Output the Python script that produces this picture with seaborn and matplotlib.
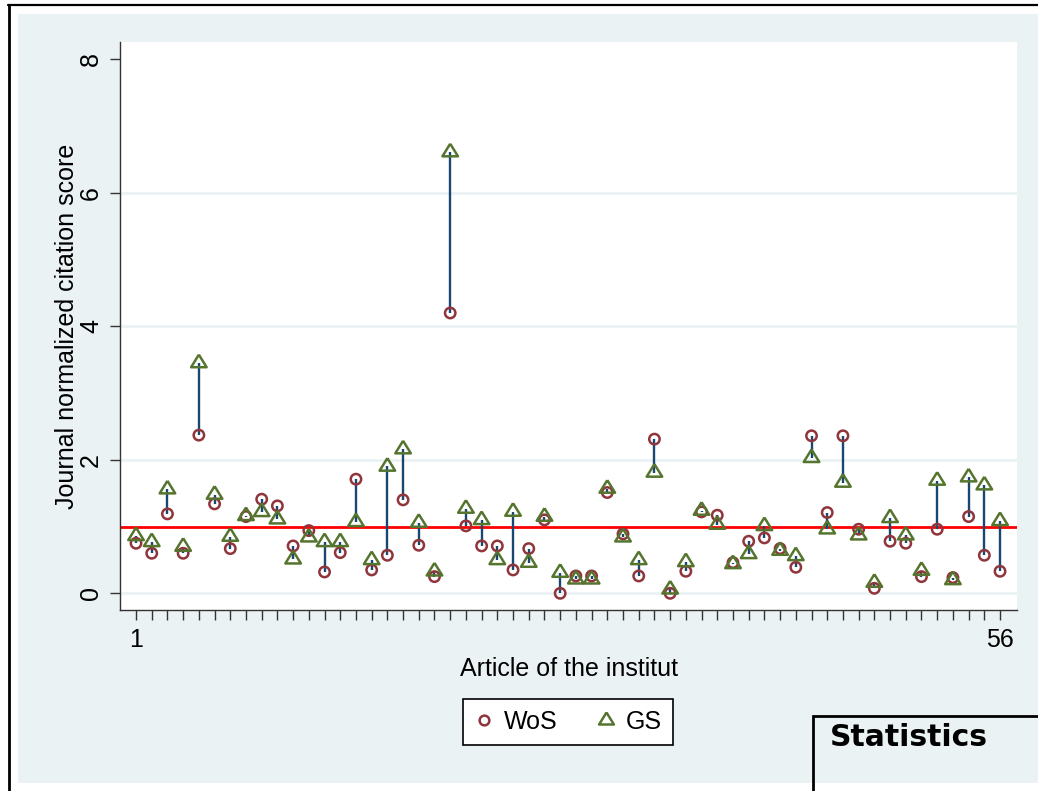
import numpy as np
import pandas as pd
import seaborn as sns
import matplotlib.pyplot as plt
from matplotlib.lines import Line2D
from matplotlib.patches import Rectangle

# values (one article per position)
article = np.arange(1, 57)
wos = [0.75, 0.60, 1.19, 0.60, 2.37, 1.34, 0.67, 1.15, 1.41, 1.31,
       0.71, 0.94, 0.32, 0.61, 1.71, 0.35, 0.57, 1.40, 0.72, 0.25,
       4.20, 1.01, 0.71, 0.71, 0.35, 0.67, 1.10, 0.00, 0.26, 0.26,
       1.51, 0.89, 0.26, 2.31, 0.00, 0.33, 1.22, 1.17, 0.46, 0.78,
       0.83, 0.67, 0.39, 2.36, 1.21, 2.36, 0.96, 0.075, 0.78, 0.75,
       0.25, 0.96, 0.235, 1.15, 0.57, 0.33]
gs = [0.86, 0.77, 1.56, 0.70, 3.45, 1.48, 0.85, 1.16, 1.22, 1.11,
      0.51, 0.84, 0.77, 0.77, 1.07, 0.50, 1.90, 2.16, 1.06, 0.33,
      6.61, 1.27, 1.10, 0.50, 1.225, 0.46, 1.15, 0.31, 0.21, 0.21,
      1.57, 0.84, 0.50, 1.81, 0.06, 0.47, 1.24, 1.03, 0.44, 0.59,
      1.01, 0.64, 0.56, 2.03, 0.96, 1.66, 0.87, 0.16, 1.13, 0.87,
      0.34, 1.69, 0.20, 1.74, 1.62, 1.085]
reference_line = 1
yticks = [0, 2, 4, 6, 8]
xtick_labels = {1: "1", 56: "56"}

df = pd.DataFrame({"article": article, "WoS": wos, "GS": gs})

# stata s2color look
navy = "#1A476F"
maroon = "#90353B"
green = "#55752F"
bluegray = "#EAF2F3"

sns.set_theme(style="white")
plt.rcParams["font.family"] = ["Liberation Sans", "DejaVu Sans"]
plt.rcParams["font.size"] = 18
plt.rcParams["text.color"] = "black"
plt.rcParams["axes.labelcolor"] = "black"

fig = plt.figure(figsize=(10.38, 7.91), dpi=100)
fig.patch.set_facecolor("white")

W, H = 1038, 791
def fx(px):
    return px / W
def fy(py):
    return 1 - py / H

# graph region + window frame
fig.patches.append(Rectangle((fx(18), fy(783)), fx(1040) - fx(18), fy(14) - fy(783),
                             transform=fig.transFigure, facecolor=bluegray,
                             edgecolor="none", zorder=-2))
fig.lines.append(Line2D([fx(8), 1], [fy(5), fy(5)], transform=fig.transFigure,
                        color="black", lw=1.6, zorder=-1))
fig.lines.append(Line2D([fx(8.5), fx(8.5)], [0, fy(5)], transform=fig.transFigure,
                        color="black", lw=2, zorder=-1))

ax = fig.add_axes([fx(120), fy(610), fx(1017) - fx(120), fy(42) - fy(610)])
ax.set_facecolor("white")

# triangle with its centroid on the data point
tri = [(0, 7), (-6.5, -3.5), (6.5, -3.5), (0, 7)]

ax.axhline(reference_line, color="#FF0000", lw=2, zorder=2)
ax.vlines(df["article"], df["WoS"], df["GS"], color=navy, lw=1.7, zorder=3)
sns.scatterplot(data=df, x="article", y="WoS", ax=ax, marker="o", s=56,
                color=maroon, facecolors="none", edgecolors=maroon,
                linewidths=1.8, zorder=4, legend=False)
sns.scatterplot(data=df, x="article", y="GS", ax=ax, marker=tri, s=145,
                color=green, facecolors="none", edgecolors=green,
                linewidths=1.8, zorder=4, legend=False)

ax.set_xlim(-0.02, 57.08)
ax.set_ylim(-0.25, 8.26)

ax.set_yticks(yticks)
ax.set_yticklabels([str(t) for t in yticks])
for lab in ax.get_yticklabels():
    lab.set_rotation(90)
    lab.set_va("center")
ax.set_xticks(article)
ax.set_xticklabels([xtick_labels.get(a, "") for a in article])

ax.tick_params(axis="both", direction="out", length=7.2, width=1,
               color="#333333", labelsize=18, labelcolor="black",
               bottom=True, left=True)
ax.tick_params(axis="y", pad=5)
ax.tick_params(axis="x", pad=6)

ax.yaxis.grid(True, color=bluegray, lw=2)
ax.xaxis.grid(False)
ax.set_axisbelow(True)
ax.get_ygridlines()[-1].set_visible(False)

for side in ["top", "right"]:
    ax.spines[side].set_visible(False)
for side in ["left", "bottom"]:
    ax.spines[side].set_color("#333333")
    ax.spines[side].set_linewidth(1)

ax.set_xlabel("Article of the institut", fontsize=18, labelpad=3)
ax.set_ylabel("Journal normalized citation score", fontsize=18, labelpad=0)

handles = [
    Line2D([], [], ls="none", marker="o", ms=7, mfc="none", mec=maroon, mew=1.8),
    Line2D([], [], ls="none", marker=tri, ms=11.5, mfc="none", mec=green, mew=1.8),
]
leg = ax.legend(handles, ["WoS", "GS"], ncol=2, loc="center",
                bbox_to_anchor=(fx(568), fy(722)), bbox_transform=fig.transFigure,
                fontsize=18, frameon=True, fancybox=False, framealpha=1,
                borderpad=0.45, handlelength=0.8, handletextpad=0.4,
                columnspacing=1.5)
leg.get_frame().set_edgecolor("black")
leg.get_frame().set_linewidth(1.2)

# partly visible "Statistics" window
fig.patches.append(Rectangle((fx(813), -0.05), 0.3, fy(716) + 0.05,
                             transform=fig.transFigure, facecolor="none",
                             edgecolor="black", lw=2, zorder=5))
fig.text(fx(830), fy(738), "Statistics", fontsize=21.5, fontweight="bold",
         family="DejaVu Sans", color="black", va="center", ha="left")

plt.savefig("out.png", dpi=100)
